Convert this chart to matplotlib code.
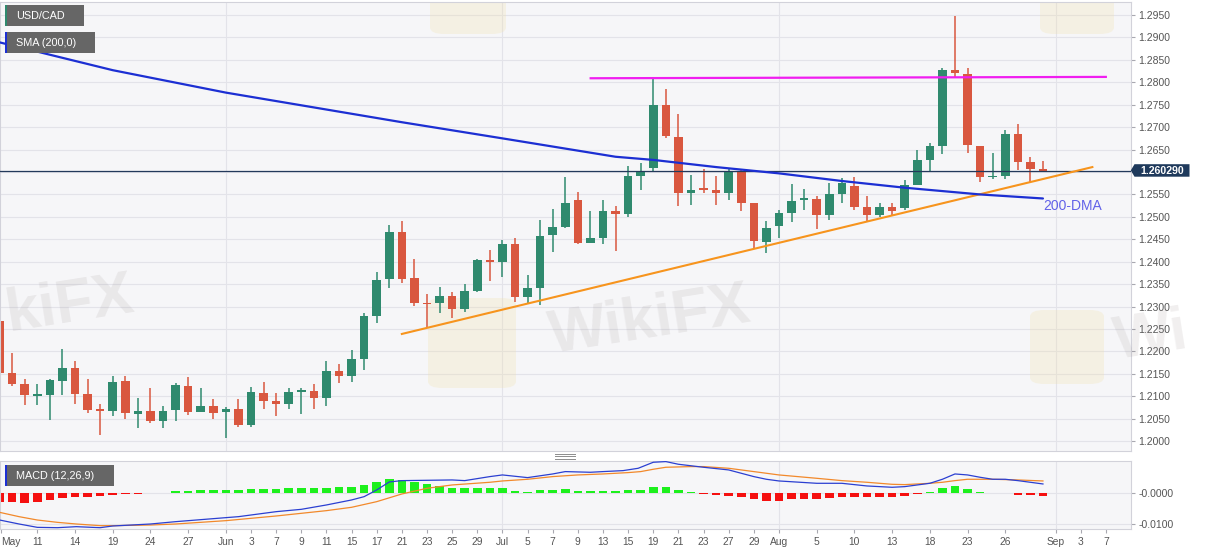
import matplotlib
matplotlib.use('Agg')
import matplotlib.pyplot as plt
from matplotlib.patches import Rectangle, Polygon, FancyBboxPatch
from matplotlib.lines import Line2D
import numpy as np

plt.rcParams['font.family'] = ['Liberation Sans', 'DejaVu Sans']

# ---------------- data ----------------
opens = [1.2269, 1.2151, 1.2128, 1.2101, 1.2102, 1.2135, 1.2163, 1.2105, 1.2070, 1.2068,
         1.2134, 1.2061, 1.2067, 1.2046, 1.2070, 1.2124, 1.2065, 1.2079, 1.2064, 1.2072,
         1.2035, 1.2108, 1.2090, 1.2082, 1.2110, 1.2112, 1.2097, 1.2156, 1.2145, 1.2184,
         1.2278, 1.2361, 1.2466, 1.2363, 1.2307, 1.2307, 1.2324, 1.2295, 1.2335, 1.2403,
         1.2400, 1.2439, 1.2321, 1.2341, 1.2460, 1.2478, 1.2538, 1.2442, 1.2452, 1.2512,
         1.2506, 1.2592, 1.2608, 1.2749, 1.2679, 1.2554, 1.2565, 1.2561, 1.2553, 1.2602,
         1.2530, 1.2444, 1.2479, 1.2508, 1.2537, 1.2540, 1.2505, 1.2552, 1.2568, 1.2521,
         1.2504, 1.2523, 1.2519, 1.2572, 1.2627, 1.2657, 1.2828, 1.2819, 1.2659, 1.2588,
         1.2591, 1.2685, 1.2622, 1.2606]
highs = [1.2289, 1.2197, 1.2138, 1.2127, 1.2138, 1.2205, 1.2179, 1.2138, 1.2082, 1.2145,
         1.2145, 1.2096, 1.2119, 1.2079, 1.2129, 1.2142, 1.2119, 1.2093, 1.2077, 1.2093,
         1.2120, 1.2133, 1.2107, 1.2118, 1.2118, 1.2127, 1.2179, 1.2171, 1.2204, 1.2285,
         1.2378, 1.2483, 1.2491, 1.2405, 1.2329, 1.2343, 1.2332, 1.2350, 1.2406, 1.2426,
         1.2448, 1.2452, 1.2371, 1.2493, 1.2517, 1.2588, 1.2556, 1.2513, 1.2538, 1.2524,
         1.2614, 1.2621, 1.2807, 1.2784, 1.2729, 1.2593, 1.2607, 1.2590, 1.2607, 1.2607,
         1.2532, 1.2491, 1.2515, 1.2574, 1.2562, 1.2546, 1.2576, 1.2587, 1.2589, 1.2546,
         1.2531, 1.2531, 1.2583, 1.2648, 1.2665, 1.2831, 1.2948, 1.2831, 1.2659, 1.2642,
         1.2693, 1.2708, 1.2634, 1.2625]
lows = [1.2142, 1.2122, 1.2080, 1.2080, 1.2047, 1.2104, 1.2082, 1.2062, 1.2014, 1.2056,
        1.2049, 1.2029, 1.2041, 1.2029, 1.2045, 1.2058, 1.2064, 1.2049, 1.2006, 1.2031,
        1.2031, 1.2071, 1.2057, 1.2071, 1.2060, 1.2071, 1.2079, 1.2129, 1.2131, 1.2158,
        1.2263, 1.2341, 1.2353, 1.2302, 1.2255, 1.2285, 1.2274, 1.2289, 1.2333, 1.2357,
        1.2366, 1.2310, 1.2306, 1.2303, 1.2422, 1.2476, 1.2439, 1.2441, 1.2440, 1.2425,
        1.2499, 1.2560, 1.2603, 1.2675, 1.2524, 1.2527, 1.2553, 1.2527, 1.2538, 1.2514,
        1.2430, 1.2419, 1.2452, 1.2489, 1.2515, 1.2474, 1.2493, 1.2531, 1.2515, 1.2491,
        1.2500, 1.2502, 1.2515, 1.2570, 1.2600, 1.2641, 1.2811, 1.2642, 1.2578, 1.2585,
        1.2585, 1.2605, 1.2577, 1.2601]
closes = [1.2151, 1.2128, 1.2102, 1.2103, 1.2136, 1.2163, 1.2105, 1.2070, 1.2068, 1.2133,
          1.2062, 1.2067, 1.2045, 1.2068, 1.2125, 1.2065, 1.2079, 1.2063, 1.2072, 1.2035,
          1.2109, 1.2090, 1.2082, 1.2110, 1.2111, 1.2097, 1.2156, 1.2146, 1.2184, 1.2278,
          1.2359, 1.2466, 1.2362, 1.2307, 1.2305, 1.2324, 1.2295, 1.2335, 1.2404, 1.2400,
          1.2439, 1.2321, 1.2341, 1.2458, 1.2478, 1.2532, 1.2441, 1.2452, 1.2512, 1.2506,
          1.2592, 1.2603, 1.2749, 1.2680, 1.2554, 1.2560, 1.2560, 1.2553, 1.2602, 1.2530,
          1.2446, 1.2476, 1.2508, 1.2536, 1.2541, 1.2505, 1.2552, 1.2576, 1.2521, 1.2504,
          1.2523, 1.2512, 1.2572, 1.2627, 1.2659, 1.2828, 1.2820, 1.2661, 1.2589, 1.2591,
          1.2685, 1.2622, 1.2607, 1.26029]
last_price = 1.26029

sma_idx = [0, 9, 18, 32, 40, 49, 52, 57, 62, 67, 72, 78, 83]
sma_vals = [1.2889, 1.2827, 1.2777, 1.2711, 1.2675, 1.2634, 1.2627, 1.2611, 1.2597,
            1.2580, 1.2565, 1.2550, 1.2541]

trend_idx = [32, 86.93]
trend_vals = [1.2239, 1.2611]
resist_idx = [47.02, 88.0]
resist_vals = [1.2809, 1.2812]

macd_idx = [0, 1.55, 3, 4.6, 6.1, 8, 9, 12, 14, 18, 19, 22, 24, 26, 28, 29, 30, 31, 32, 34,
            36, 37, 39, 40, 42, 44, 45, 47, 48, 49.6, 50.8, 52, 53, 54, 56, 58, 60, 61, 62,
            65, 67, 69, 71, 72, 74, 75, 76, 77, 78, 79, 80, 81, 82, 83]
macd_vals = [-0.00870, -0.0100, -0.01109, -0.0112, -0.01087, -0.0112, -0.01065, -0.0100,
             -0.00924, -0.00793, -0.00761, -0.00598, -0.00522, -0.0038, -0.00217, -0.00109,
             0.00109, 0.0037, 0.00413, 0.00424, 0.00435, 0.00413, 0.00544, 0.00598, 0.00511,
             0.0063, 0.00707, 0.00685, 0.00707, 0.00739, 0.00815, 0.01011, 0.01033, 0.00946,
             0.00848, 0.00761, 0.00544, 0.00457, 0.00402, 0.00326, 0.00326, 0.00239, 0.00196,
             0.00217, 0.00326, 0.00457, 0.0063, 0.00598, 0.00522, 0.00457, 0.00457, 0.00413,
             0.00359, 0.00304]
signal_idx = [0, 1.55, 3, 4.6, 6.1, 8, 9, 12, 14, 18, 22, 24, 26, 28, 30, 32, 34, 36, 39, 40,
              42, 44, 46, 48, 50, 51, 52, 53, 55, 56, 58, 60, 62, 65, 67, 69, 71, 72, 74, 75,
              76, 77, 79, 81, 83]
signal_vals = [-0.0062, -0.00761, -0.0087, -0.00946, -0.0100, -0.01054, -0.01054, -0.01033,
               -0.0100, -0.00891, -0.00739, -0.00652, -0.00565, -0.00456, -0.00272, -0.00022,
               0.00163, 0.00272, 0.00359, 0.00402, 0.00457, 0.00544, 0.00598, 0.0063, 0.00674,
               0.00707, 0.00783, 0.00848, 0.0087, 0.0087, 0.00815, 0.00707, 0.00598, 0.00489,
               0.00413, 0.00359, 0.00293, 0.00283, 0.00326, 0.00359, 0.00413, 0.00457, 0.00457,
               0.00435, 0.00402]
hist_vals = [-0.0027, -0.0029, -0.0030, -0.0029, -0.0022, -0.0015, -0.0013, -0.0011, -0.0010, -0.0004,
             -0.0003, -0.0001, 0.0000, 0.0001, 0.0006, 0.0009, 0.0010, 0.0011, 0.0011, 0.0012,
             0.0013, 0.0014, 0.0015, 0.0016, 0.0017, 0.0017, 0.0018, 0.0020, 0.0021, 0.0028,
             0.0036, 0.0046, 0.0043, 0.0036, 0.0029, 0.0024, 0.0018, 0.0016, 0.0016, 0.0016,
             0.0017, 0.0009, 0.0005, 0.0010, 0.0010, 0.0014, 0.0009, 0.0007, 0.0008, 0.0007,
             0.0010, 0.0012, 0.0022, 0.0022, 0.0011, 0.0003, -0.0001, -0.0007, -0.0008, -0.0012,
             -0.0020, -0.0024, -0.0024, -0.0020, -0.0017, -0.0017, -0.0015, -0.0011, -0.0013, -0.0013,
             -0.0013, -0.0013, -0.0008, -0.0001, 0.0003, 0.0017, 0.0024, 0.0015, 0.0005, 0.0000,
             -0.0000, -0.0004, -0.0007, -0.0010]

tick_pos = [0.1, 3, 6, 9, 12, 15, 18, 20, 22, 24, 26, 28, 30, 32, 34, 36, 38, 40, 42, 44, 46,
            48, 50, 52, 54, 56, 58, 60, 62, 65, 68, 71, 74, 77, 80, 84, 86, 88]
tick_labels = ["May", "11", "14", "19", "24", "27", "Jun", "3", "7", "9", "11", "15", "17",
               "21", "23", "25", "29", "Jul", "5", "7", "9", "13", "15", "19", "21", "23",
               "27", "29", "Aug", "5", "10", "13", "18", "23", "26", "Sep", "3", "7"]
month_pos = [18, 40, 62, 84]
price_ticks = [1.2000, 1.2050, 1.2100, 1.2150, 1.2200, 1.2250, 1.2300, 1.2350, 1.2400,
               1.2450, 1.2500, 1.2550, 1.2600, 1.2650, 1.2700, 1.2750, 1.2800, 1.2850,
               1.2900, 1.2950]
macd_ticks = [0.0, -0.01]
macd_tick_labels = ["-0.0000", "-0.0100"]

# ---------------- styling ----------------
W, H = 1207, 555
GREEN = '#2f8a6e'
RED = '#d9573f'
PANEL = '#f6f6f8'
GRID = '#e3e3e9'
SPINE = '#d2d2da'
TXT = '#555555'

fig = plt.figure(figsize=(W / 100, H / 100), dpi=100, facecolor='white')


def fxy(x, y):
    return x / W, 1 - y / H


ax = fig.add_axes([0, 1 - 451 / H, 1130.7 / W, (451 - 1.5) / H])
mx = fig.add_axes([0, 1 - 529.3 / H, 1130.7 / W, (529.3 - 460.7) / H])

XL = (0.032, 89.98)
for a in (ax, mx):
    a.set_facecolor(PANEL)
    a.set_xlim(*XL)
    for s in a.spines.values():
        s.set_color(SPINE)
        s.set_linewidth(0.8)
    for m in month_pos:
        a.axvline(m, color=GRID, lw=0.8, zorder=0.3)

ax.set_ylim(1.19781, 1.29801)
mx.set_ylim(-0.011726, 0.010619)

for v in price_ticks:
    ax.axhline(v, color=GRID, lw=0.8, zorder=0.3)
for v in macd_ticks:
    mx.axhline(v, color=GRID, lw=0.8, zorder=0.3)

# watermarks
wm_color = '#8a7f7f'
for (lx, cy, word, clip) in [(2, 306, 'kiFX', True), (545, 322, 'WikiFX', True),
                             (1110, 338, 'Wi', False)]:
    tx, ty = fxy(lx, cy)
    (ax if clip else fig).text(tx, ty, word, transform=fig.transFigure, fontsize=44,
                               fontweight='bold', color=wm_color, alpha=0.12, ha='left',
                               va='center', rotation=9, zorder=0.4)
for (x0, y0, x1, y1) in [(428, 298, 516, 388), (1030, 310, 1104, 384), (430, -40, 506, 34),
                         (1040, -40, 1114, 34)]:
    bx, by = fxy(x0, y1)
    ax.add_patch(FancyBboxPatch((bx, by), (x1 - x0) / W, (y1 - y0) / H,
                                boxstyle='round,pad=0,rounding_size=0.012',
                                transform=fig.transFigure, facecolor='#f1e2ad', alpha=0.28,
                                edgecolor='none', zorder=0.4))

# candles
idx = np.arange(len(opens))
o = np.array(opens); c = np.array(closes)
hi = np.array(highs); lo = np.array(lows)
cols = [GREEN if cc >= oo else RED for oo, cc in zip(o, c)]
ax.vlines(idx, lo, hi, colors=cols, lw=1.1, zorder=2)
bottoms = np.minimum(o, c)
heights = np.maximum(np.abs(c - o), 0.00035)
ax.bar(idx, heights, bottom=bottoms, width=0.68, color=cols, lw=0, zorder=2.1)

# lines
ax.axhline(last_price, color='#23395b', lw=0.9, zorder=3)
ax.plot(sma_idx, sma_vals, color='#1c2fd3', lw=1.6, zorder=3.2, solid_capstyle='round')
ax.plot(trend_idx, trend_vals, color='#f7941d', lw=1.5, zorder=3.1)
ax.plot(resist_idx, resist_vals, color='#f01ef0', lw=1.6, zorder=3.1)
tx, ty = fxy(1043, 206.5)
ax.text(tx, ty, '200-DMA', transform=fig.transFigure, fontsize=10, color='#6262e8',
        ha='left', va='center', zorder=4)

# price axis (the 1.2600 label sits under the current-price tag)
ax.yaxis.tick_right()
ax.set_yticks(price_ticks)
ax.set_yticklabels(['' if abs(v - 1.2600) < 1e-9 else f"{v:.4f}" for v in price_ticks])
ax.tick_params(axis='y', length=3, width=0.8, color='#a8a8b0', labelsize=7.5,
               labelcolor=TXT, pad=2.3)
ax.set_xticks([])

# MACD panel
hcols = ['#1df01d' if h >= 0 else '#f51010' for h in hist_vals]
mx.bar(idx, hist_vals, width=0.68, color=hcols, lw=0, zorder=2)
mx.plot(signal_idx, signal_vals, color='#f2892b', lw=0.9, zorder=3)
mx.plot(macd_idx, macd_vals, color='#2b3fd1', lw=0.9, zorder=3.1)
mx.yaxis.tick_right()
mx.set_yticks(macd_ticks)
mx.set_yticklabels(macd_tick_labels)
mx.tick_params(axis='y', length=3, width=0.8, color='#a8a8b0', labelsize=7.5,
               labelcolor=TXT, pad=2.3)
mx.set_xticks(tick_pos)
mx.set_xticklabels(tick_labels)
mx.tick_params(axis='x', length=2.6, width=0.8, color='#a8a8b0', labelsize=7.4,
               labelcolor=TXT, pad=2.6)
mx.get_xticklabels()[0].set_ha('left')


# legend boxes
def fig_rect(x0, y0, x1, y1, color, z=5):
    bx, by = fxy(x0, y1)
    fig.patches.append(Rectangle((bx, by), (x1 - x0) / W, (y1 - y0) / H,
                                 transform=fig.transFigure, facecolor=color,
                                 edgecolor='none', zorder=z))


for (x0, y0, x1, y1, stripe, label) in [(5, 5, 84, 25.7, GREEN, 'USD/CAD'),
                                         (5, 32, 95, 52.7, '#1c2fd3', 'SMA (200,0)'),
                                         (4.6, 465, 114, 485.7, '#1c2fd3', 'MACD (12,26,9)')]:
    fig_rect(x0, y0, x1, y1, '#666666')
    fig_rect(x0, y0, x0 + 2.2, y1, stripe, z=5.1)
    tx, ty = fxy(16, (y0 + y1) / 2 + 0.3)
    fig.text(tx, ty, label, color='white', fontsize=7.8, ha='left', va='center', zorder=6)

# current price tag
pts = [fxy(1130.8, 170.4), fxy(1134.5, 164.2), fxy(1189.5, 164.2), fxy(1189.5, 176.7),
       fxy(1134.5, 176.7)]
fig.patches.append(Polygon(pts, closed=True, transform=fig.transFigure, facecolor='#1f3a5c',
                           edgecolor='none', zorder=5))
tx, ty = fxy(1162, 170.6)
fig.text(tx, ty, f"{last_price:.6f}", color='white', fontsize=7.6, fontweight='bold',
         ha='center', va='center', zorder=6)

# panel resize handle
for yy in (453.8, 456.2, 458.6):
    x0, y0 = fxy(555, yy)
    x1, _ = fxy(575, yy)
    fig.add_artist(Line2D([x0, x1], [y0, y0], transform=fig.transFigure, color='#8c8c8c',
                          lw=0.7))

fig.savefig('out.png', dpi=100, facecolor='white')
